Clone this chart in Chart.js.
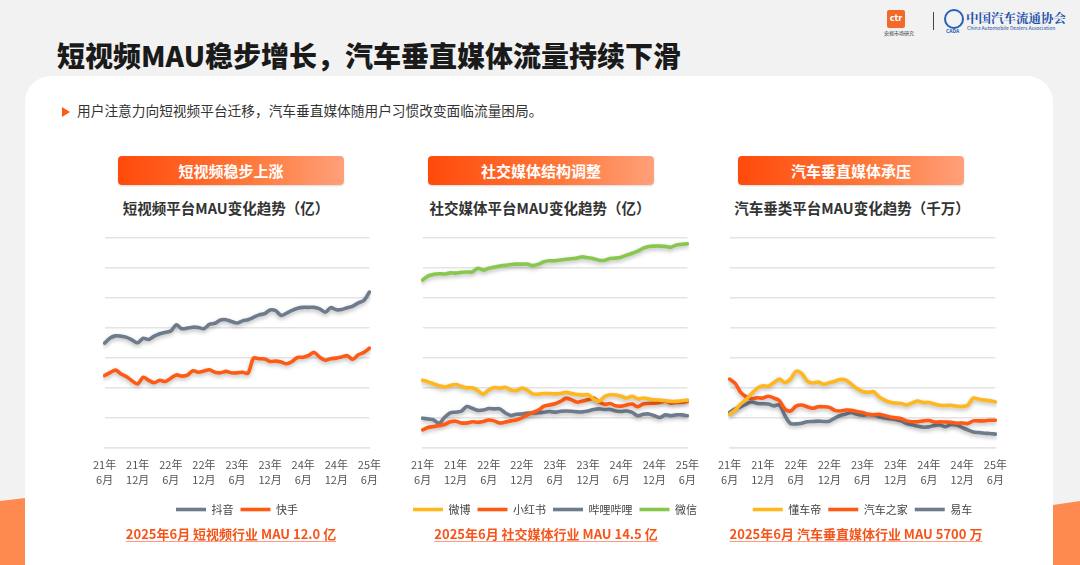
<!DOCTYPE html>
<html>
<head>
<meta charset="utf-8">
<script src="https://cdn.jsdelivr.net/npm/chart.js@4.4.1/dist/chart.umd.min.js"></script>
<style>
  html, body { margin: 0; padding: 0; }
  body { width: 1080px; height: 565px; overflow: hidden; background: #f2f2f2; position: relative;
         font-family: "Noto Sans CJK SC", "Noto Sans", sans-serif; }
  .abs { position: absolute; }
  .orange { background: #ff8a4f; }
  .card { left: 25px; top: 76px; width: 1028px; height: 540px; background: #fff; border-radius: 26px; }
  .title { left: 57px; top: 35px; font-size: 28px; font-weight: 900; color: #1a1a1a; white-space: nowrap; }
  .bullet { left: 62px; top: 100px; font-size: 13.7px; color: #333; white-space: nowrap; }
  .bullet span { display: inline-block; width: 0; height: 0; border-top: 5px solid transparent; border-bottom: 5px solid transparent;
                 border-left: 8px solid #ff5a14; margin-right: 7px; vertical-align: -1px; }
  .tag { width: 226px; height: 29px; border-radius: 4px; color: #fff; font-weight: 700; font-size: 15px; line-height: 29px;
         text-align: center; background: linear-gradient(90deg, #ff4a0a 0%, #ff7a3d 60%, #ffa07a 100%);
         box-shadow: 0 1px 2px rgba(0,0,0,0.15); }
  .sub { width: 320px; text-align: center; font-size: 14.5px; font-weight: 700; color: #333; white-space: nowrap; }
  .foot { width: 320px; text-align: center; font-size: 13px; font-weight: 700; color: #f5551b; text-decoration: underline;
          text-decoration-color: #ff9a80; text-underline-offset: 2px; white-space: nowrap; }
  .box { height: 295px; }
  .logo1 { left: 887px; top: 10px; width: 18px; height: 18px; background: #f26a2a; border-radius: 2px; color: #fff;
           font: bold 8px "DejaVu Sans", sans-serif; line-height: 18px; text-align: center; }
  .logo1s { left: 884px; top: 29px; font-size: 5px; color: #333; white-space: nowrap; }
  .vline { left: 933px; top: 12px; width: 1px; height: 18px; background: #444; }
  .ring { left: 944px; top: 9px; width: 16px; height: 16px; border-radius: 50%; border: 2px solid #2a5fb8; }
  .cada { left: 946px; top: 27px; font-size: 5px; font-weight: 700; color: #2a5fb8; }
  .assoc { left: 966px; top: 9px; font-family: "Noto Serif CJK SC", "Noto Sans CJK SC", serif; font-size: 12.5px; font-weight: 700; color: #2450a8; white-space: nowrap; }
  .assoc2 { left: 967px; top: 24px; font-size: 5px; color: #2450a8; white-space: nowrap; }
</style>
</head>
<body>
<div class="abs orange" style="left:0;top:0;width:1080px;height:565px;clip-path:polygon(0 501px,25px 498px,25px 565px,0 565px);"></div>
<div class="abs orange" style="left:0;top:0;width:1080px;height:565px;clip-path:polygon(1053px 505px,1080px 501px,1080px 565px,1053px 565px);"></div>
<div class="abs card"></div>

<div class="abs logo1">ctr</div>
<div class="abs logo1s">央视市场研究</div>
<div class="abs vline"></div>
<div class="abs ring"></div>
<div class="abs cada">CADA</div>
<div class="abs assoc">中国汽车流通协会</div>
<div class="abs assoc2">China Automobile Dealers Association</div>

<div class="abs title">短视频MAU稳步增长，汽车垂直媒体流量持续下滑</div>
<div class="abs bullet"><span></span>用户注意力向短视频平台迁移，汽车垂直媒体随用户习惯改变面临流量困局。</div>

<div class="abs tag" style="left:118px;top:156px;">短视频稳步上涨</div>
<div class="abs tag" style="left:428px;top:156px;">社交媒体结构调整</div>
<div class="abs tag" style="left:738px;top:156px;">汽车垂直媒体承压</div>

<div class="abs sub" style="left:66px;top:197px;">短视频平台MAU变化趋势（亿）</div>
<div class="abs sub" style="left:380px;top:197px;">社交媒体平台MAU变化趋势（亿）</div>
<div class="abs sub" style="left:692px;top:197px;">汽车垂类平台MAU变化趋势（千万）</div>

<div class="abs box" style="left:84px;top:230px;width:306px;"><canvas id="c1"></canvas></div>
<div class="abs box" style="left:402px;top:230px;width:306px;"><canvas id="c2"></canvas></div>
<div class="abs box" style="left:709px;top:230px;width:307px;"><canvas id="c3"></canvas></div>

<div class="abs foot" style="left:71px;top:524px;">2025年6月 短视频行业 MAU 12.0 亿</div>
<div class="abs foot" style="left:386px;top:524px;">2025年6月 社交媒体行业 MAU 14.5 亿</div>
<div class="abs foot" style="left:696px;top:524px;">2025年6月 汽车垂直媒体行业 MAU 5700 万</div>

<script>
// months 21年6月 .. 25年6月 (49 points), tick every 6 months
var months = []
for (var i = 0; i < 49; i++) {
    var yy = 21 + Math.floor((5 + i) / 12)
    var mm = (5 + i) % 12 + 1
    months.push(yy + '年' + mm + '月')
}
var tickLabels = [['21年','6月'],['21年','12月'],['22年','6月'],['22年','12月'],['23年','6月'],['23年','12月'],['24年','6月'],['24年','12月'],['25年','6月']]

// values in gridline units (no y labels in the source)
var douyin = [3.50,3.67,3.74,3.73,3.69,3.60,3.51,3.66,3.62,3.73,3.81,3.86,3.90,4.11,3.98,4.00,4.03,4.02,3.98,4.12,4.16,4.27,4.28,4.22,4.17,4.24,4.28,4.36,4.44,4.48,4.60,4.58,4.42,4.50,4.59,4.66,4.69,4.69,4.69,4.64,4.53,4.68,4.61,4.62,4.68,4.73,4.84,4.92,5.20]
var kuaishou = [2.42,2.52,2.60,2.47,2.38,2.24,2.14,2.36,2.26,2.18,2.26,2.22,2.33,2.44,2.40,2.43,2.58,2.53,2.57,2.61,2.53,2.51,2.56,2.51,2.51,2.53,2.50,3.00,2.98,2.97,2.89,2.90,2.87,2.81,2.89,3.02,3.03,3.09,3.19,3.03,2.93,2.98,3.00,3.04,3.08,2.96,3.11,3.19,3.33]

var weibo = [2.26,2.21,2.14,2.08,2.04,2.09,2.12,2.06,2.01,2.01,1.92,1.80,1.94,2.02,2.00,2.03,1.94,1.92,2.00,1.93,1.81,1.80,1.82,1.82,1.81,1.82,1.86,1.82,1.79,1.77,1.78,1.64,1.56,1.72,1.78,1.77,1.73,1.67,1.73,1.64,1.67,1.64,1.61,1.60,1.58,1.56,1.56,1.58,1.60]
var xiaohongshu = [0.61,0.69,0.72,0.76,0.79,0.88,0.90,0.84,0.84,0.88,0.86,0.89,0.94,0.91,0.84,0.87,0.91,0.94,1.01,1.11,1.19,1.27,1.40,1.44,1.48,1.56,1.66,1.61,1.53,1.57,1.61,1.67,1.54,1.46,1.49,1.41,1.40,1.44,1.47,1.38,1.47,1.49,1.50,1.52,1.57,1.50,1.52,1.53,1.56]
var bilibili = [1.00,0.97,0.94,0.83,1.03,1.18,1.20,1.23,1.39,1.33,1.26,1.27,1.32,1.31,1.31,1.17,1.09,1.13,1.14,1.17,1.17,1.18,1.20,1.22,1.20,1.23,1.24,1.23,1.21,1.21,1.24,1.29,1.31,1.29,1.29,1.24,1.22,1.24,1.19,1.08,1.13,1.14,1.08,1.02,1.11,1.08,1.11,1.11,1.08]
var weixin = [5.60,5.74,5.79,5.81,5.80,5.84,5.83,5.86,5.87,5.87,5.99,5.93,5.99,6.03,6.07,6.09,6.12,6.13,6.13,6.13,6.08,6.13,6.21,6.24,6.24,6.27,6.29,6.31,6.33,6.37,6.34,6.31,6.26,6.26,6.32,6.33,6.36,6.43,6.49,6.56,6.66,6.72,6.73,6.73,6.72,6.69,6.77,6.79,6.81]

var dongchedi = [1.13,1.27,1.47,1.62,1.82,2.00,2.08,2.06,2.19,2.30,2.19,2.30,2.56,2.49,2.24,2.17,2.20,2.13,2.18,2.23,2.29,2.27,2.13,1.99,1.89,1.86,1.88,1.71,1.60,1.53,1.50,1.49,1.44,1.51,1.57,1.52,1.52,1.47,1.43,1.42,1.43,1.40,1.39,1.43,1.67,1.63,1.60,1.58,1.54]
var autohome = [2.30,2.16,1.86,1.71,1.64,1.68,1.67,1.73,1.67,1.58,1.30,1.24,1.40,1.44,1.38,1.33,1.38,1.38,1.36,1.26,1.24,1.27,1.26,1.22,1.19,1.13,1.11,1.13,1.09,1.04,1.01,0.98,0.91,0.88,0.88,0.91,0.92,0.87,0.88,0.87,0.86,0.83,0.84,0.82,0.91,0.91,0.91,0.93,0.93]
var yiche = [1.19,1.31,1.38,1.47,1.54,1.49,1.48,1.47,1.41,1.44,1.08,0.82,0.81,0.83,0.88,0.89,0.90,0.89,0.90,1.00,1.09,1.14,1.19,1.13,1.10,1.12,1.11,1.04,1.01,0.98,0.96,0.91,0.82,0.78,0.73,0.70,0.71,0.76,0.77,0.72,0.79,0.77,0.69,0.61,0.54,0.52,0.50,0.49,0.47]

var GRAY = '#6d7b8c', ORANGE = '#ff5a14', YELLOW = '#ffb71e', GREEN = '#87c84c'

var lineShadow = {
    id: 'lineShadow',
    beforeDatasetDraw: function(chart){
        var c = chart.ctx
        c.save()
        c.shadowColor = 'rgba(0,0,0,0.28)'
        c.shadowBlur = 4
        c.shadowOffsetY = 2
    },
    afterDatasetDraw: function(chart){
        chart.ctx.restore()
    }
}

function serie(label, values, color){
    return {
        label: label,
        data: values,
        borderColor: color,
        backgroundColor: color,
        borderWidth: 3.6,
        borderCapStyle: 'round',
        borderJoinStyle: 'round',
        pointRadius: 0,
        tension: 0.3
    }
}

function montarGrafico(id, datasets){
    return new Chart(document.getElementById(id).getContext('2d'), {
        type: 'line',
        data: { labels: months, datasets: datasets },
        plugins: [lineShadow],
        options: {
            responsive: true,
            maintainAspectRatio: false,
            animation: false,
            layout: { padding: { left: 0, right: 0, top: 8, bottom: 0 } },
            plugins: {
                tooltip: { enabled: false },
                legend: {
                    position: 'bottom',
                    labels: {
                        usePointStyle: true,
                        pointStyle: 'line',
                        pointStyleWidth: 30,
                        boxHeight: 11,
                        padding: 7,
                        color: '#444',
                        font: { family: '"Noto Sans CJK SC", sans-serif', size: 11 }
                    }
                }
            },
            scales: {
                x: {
                    grid: { display: false, drawTicks: false },
                    border: { display: true, color: '#e4e4e4', width: 1.5 },
                    ticks: {
                        autoSkip: false,
                        maxRotation: 0,
                        padding: 9,
                        color: '#555',
                        font: { family: '"Noto Sans CJK SC", sans-serif', size: 11, lineHeight: 1.4 },
                        callback: function(v, i){ return i % 6 == 0 ? tickLabels[i / 6] : '' }
                    }
                },
                y: {
                    min: 0, max: 7,
                    border: { display: false },
                    grid: { color: '#e4e4e4', lineWidth: 1.5, drawTicks: false },
                    ticks: { stepSize: 1, display: false }
                }
            }
        }
    })
}

montarGrafico('c1', [serie('抖音', douyin, GRAY), serie('快手', kuaishou, ORANGE)])
montarGrafico('c2', [serie('微博', weibo, YELLOW), serie('小红书', xiaohongshu, ORANGE), serie('哔哩哔哩', bilibili, GRAY), serie('微信', weixin, GREEN)])
montarGrafico('c3', [serie('懂车帝', dongchedi, YELLOW), serie('汽车之家', autohome, ORANGE), serie('易车', yiche, GRAY)])
</script>
</body>
</html>
